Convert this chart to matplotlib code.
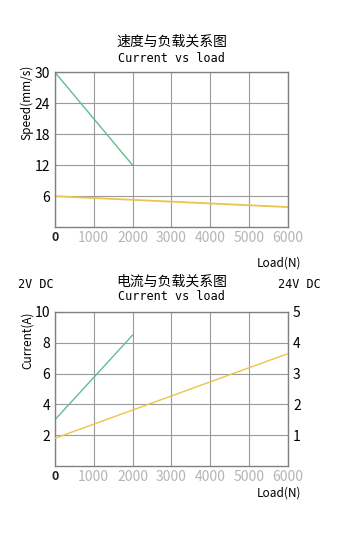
import matplotlib
matplotlib.use('Agg')
import matplotlib.pyplot as plt

plt.rcParams['font.family'] = ['Noto Sans CJK SC', 'DejaVu Sans']

# load axis (N)
load_ticks = [0, 1000, 2000, 3000, 4000, 5000, 6000]
load_labels = ['0', '1000', '2000', '3000', '4000', '5000', '6000']

# speed vs load (mm/s)
speed_fast_load = [0, 2000]
speed_fast = [30, 12]
speed_slow_load = [0, 6000]
speed_slow = [6, 3.9]

# current vs load (A)
cur_12v_load = [0, 2000]
cur_12v = [3.0, 8.5]
cur_24v_load = [0, 6000]
cur_24v = [0.9, 3.65]

green = '#5fbf8f'
yellow = '#e8c64a'
grid_c = '#9a9a9a'
mono = ['DejaVu Sans Mono']

fig = plt.figure(figsize=(3.61, 5.41), dpi=100)
ax1 = fig.add_axes([0.152, 0.580, 0.646, 0.2865])
ax2 = fig.add_axes([0.152, 0.1386, 0.646, 0.2847])


def style(ax, ymax, yticks):
    ax.set_xlim(0, 6000)
    ax.set_ylim(0, ymax)
    ax.set_xticks(load_ticks)
    ax.set_xticklabels(load_labels, fontsize=6.5)
    ax.set_yticks(yticks)
    ax.tick_params(axis='both', length=0, labelsize=10)
    ax.tick_params(axis='x', pad=3)
    ax.grid(True, color=grid_c, linewidth=0.8)
    for s in ax.spines.values():
        s.set_color('#808080')
        s.set_linewidth(1.0)
    for i, lab in enumerate(ax.get_xticklabels()):
        if i == 0:
            lab.set_color('#222222')
            lab.set_fontsize(9)
            lab.set_fontweight('bold')
        else:
            lab.set_color('#b5b5b5')


style(ax1, 30, [6, 12, 18, 24, 30])
ax1.plot(speed_fast_load, speed_fast, color=green, linewidth=1.0)
ax1.plot(speed_slow_load, speed_slow, color=yellow, linewidth=1.3)

style(ax2, 10, [2, 4, 6, 8, 10])
ax2.plot(cur_12v_load, cur_12v, color=green, linewidth=1.0)
ax2r = ax2.twinx()
ax2r.set_ylim(0, 5)
ax2r.set_yticks([1, 2, 3, 4, 5])
ax2r.tick_params(axis='y', length=0, labelsize=10)
for s in ax2r.spines.values():
    s.set_visible(False)
ax2r.plot(cur_24v_load, cur_24v, color=yellow, linewidth=1.0)

# titles and labels
fig.text(0.475, 1 - 42 / 541, '速度与负载关系图', ha='center', va='center', fontsize=10)
fig.text(0.475, 1 - 58 / 541, 'Current vs load', ha='center', va='center', fontsize=8.5, family=mono)
fig.text(0.075, 1 - 102 / 541, 'Speed(mm/s)', rotation=90, ha='center', va='center', fontsize=8.5)
fig.text(0.835, 1 - 263 / 541, 'Load(N)', ha='right', va='center', fontsize=8.5)

fig.text(0.475, 1 - 282 / 541, '电流与负载关系图', ha='center', va='center', fontsize=10)
fig.text(0.475, 1 - 297 / 541, 'Current vs load', ha='center', va='center', fontsize=8.5, family=mono)
fig.text(0.05, 1 - 284 / 541, '2V DC', ha='left', va='center', fontsize=8.5, family=mono)
fig.text(0.77, 1 - 284 / 541, '24V DC', ha='left', va='center', fontsize=8.5, family=mono)
fig.text(0.075, 1 - 340 / 541, 'Current(A)', rotation=90, ha='center', va='center', fontsize=8.5)
fig.text(0.835, 1 - 493 / 541, 'Load(N)', ha='right', va='center', fontsize=8.5)

fig.savefig('out.png', dpi=100)
